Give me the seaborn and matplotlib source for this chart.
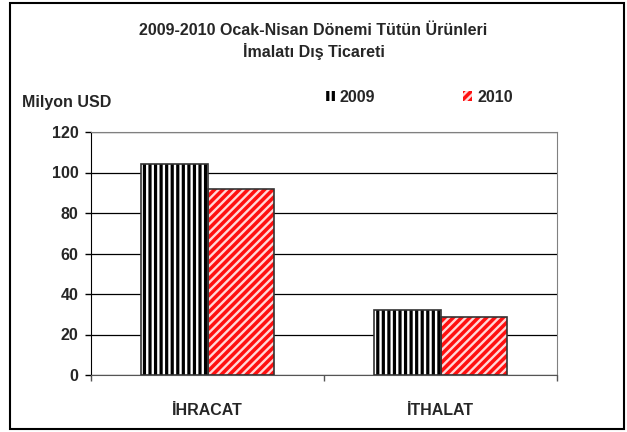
import matplotlib
matplotlib.use("Agg")
import matplotlib.pyplot as plt
from matplotlib.patches import Patch, Rectangle
import pandas as pd
import seaborn as sns

sns.set_style("white")
plt.rcParams['font.family'] = ['Liberation Sans', 'DejaVu Sans']
plt.rcParams['font.weight'] = 'bold'
plt.rcParams['hatch.linewidth'] = 1.7

# veriler (Milyon USD)
kategoriler = ['İHRACAT', 'İTHALAT']
yillar = ['2009', '2010']
deger_2009 = [104, 32]
deger_2010 = [92, 28.5]

dados = pd.DataFrame({
    'kategori': kategoriler * 2,
    'yil': [yillar[0]] * 2 + [yillar[1]] * 2,
    'deger': deger_2009 + deger_2010,
})

fig = plt.figure(figsize=(6.27, 4.32), dpi=100)
ax = fig.add_axes([91/627, 1 - 375/432, 466/627, 243/432])

sns.barplot(data=dados, x='kategori', y='deger', hue='yil', order=kategoriler,
            hue_order=yillar, palette={'2009': 'black', '2010': 'red'},
            width=0.575, saturation=1, legend=False, ax=ax)

# desenler: siyah zemin + beyaz dikey, kırmızı zemin + açık çapraz
for p in ax.containers[0]:
    p.set_facecolor('black')
    p.set_hatch('|||')
    p.set_edgecolor('white')
    p.set_linewidth(0)
for p in ax.containers[1]:
    p.set_facecolor('#ff1010')
    p.set_hatch('////')
    p.set_edgecolor('#ffd8d8')
    p.set_linewidth(0)
for c in ax.containers:
    for p in c:
        ax.add_patch(Rectangle(p.get_xy(), p.get_width(), p.get_height(),
                               fill=False, edgecolor='#333333', lw=1.2, zorder=3))

ax.set_ylim(0, 120)
ax.set_yticks(range(0, 121, 20))
ax.set_xlim(-0.5, 1.5)
ax.yaxis.grid(True, color='black', lw=0.9)
ax.set_axisbelow(True)
ax.set_xlabel('')
ax.set_ylabel('')

for s in ['top', 'right']:
    ax.spines[s].set_visible(True)
    ax.spines[s].set_color('#808080')
ax.spines['left'].set_color('black')
ax.spines['bottom'].set_color('#555555')

ax.tick_params(axis='y', length=4, width=1, color='black', pad=5, labelsize=11.5, left=True)
ax.tick_params(axis='x', length=0, pad=20, labelsize=11.5)
ax.set_xticks([-0.5, 0.5, 1.5], minor=True)
ax.tick_params(axis='x', which='minor', length=4, width=1, color='#555555', bottom=True)

fig.text(0.5, 1 - 41.5/432, '2009-2010 Ocak-Nisan Dönemi Tütün Ürünleri\nİmalatı Dış Ticareti',
         ha='center', va='center', fontsize=11.5, fontweight='bold', linespacing=1.35)
fig.text(22/627, 1 - 102/432, 'Milyon USD', ha='left', va='center',
         fontsize=11.5, fontweight='bold')

handles = [Patch(facecolor='black', edgecolor='white', hatch='|||', lw=0),
           Patch(facecolor='#ff1010', edgecolor='#ffd8d8', hatch='////', lw=0)]
fig.legend(handles, yillar, loc='center left', bbox_to_anchor=(325/627, 1 - 97/432),
           ncol=2, frameon=False, borderpad=0, borderaxespad=0, handlelength=0.6,
           handleheight=0.6, handletextpad=0.3, columnspacing=5.5,
           prop={'size': 11.5, 'weight': 'bold'})

# dış çerçeve
fig.add_artist(Rectangle((10/627, 3/432), 614/627, 426/432, transform=fig.transFigure,
                         fill=False, edgecolor='black', lw=1.5))

fig.savefig('out.png', dpi=100, facecolor='white')
